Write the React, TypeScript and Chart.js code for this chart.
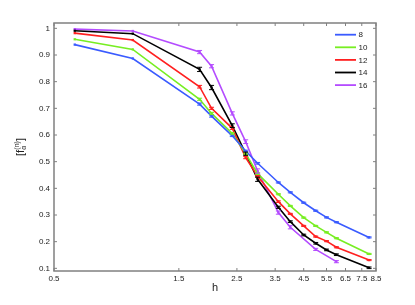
import React, { useEffect, useRef } from 'react';
import { Chart, registerables } from 'chart.js';

Chart.register(...registerables);

const hValues = [0.6, 1.0, 1.8, 2.0, 2.4, 2.7, 3.0, 3.6, 4.0, 4.5, 5.0, 5.5, 6.0, 8.0];
const seriesLabels = ['8', '10', '12', '14', '16'];
const seriesColors = ['#3a5bff', '#77ee22', '#ff2020', '#000000', '#b44cff'];

const n8 = [0.939, 0.887, 0.716, 0.671, 0.597, 0.54, 0.494, 0.422, 0.385, 0.346, 0.316, 0.291, 0.273, 0.216];
const n10 = [0.959, 0.921, 0.734, 0.681, 0.606, 0.53, 0.455, 0.378, 0.334, 0.29, 0.259, 0.235, 0.213, 0.154];
const n12 = [0.982, 0.956, 0.781, 0.7, 0.625, 0.515, 0.445, 0.35, 0.304, 0.259, 0.219, 0.202, 0.179, 0.131];
const n14 = [0.991, 0.98, 0.846, 0.778, 0.635, 0.53, 0.434, 0.329, 0.275, 0.225, 0.194, 0.169, 0.151, 0.102];
const n16 = [0.997, 0.99, 0.911, 0.858, 0.681, 0.575, 0.465, 0.309, 0.254, null, 0.171, null, 0.125, null];

const err8 = [0, 0, 0.004, 0.004, 0.003, 0.003, 0.003, 0.002, 0.002, 0.002, 0.002, 0.002, 0.002, 0.002];
const err10 = [0, 0, 0.004, 0.004, 0.003, 0.003, 0.003, 0.002, 0.002, 0.002, 0.002, 0.002, 0.002, 0.002];
const err12 = [0, 0, 0.005, 0.004, 0.004, 0.004, 0.003, 0.003, 0.002, 0.002, 0.002, 0.002, 0.002, 0.002];
const err14 = [0, 0, 0.008, 0.008, 0.007, 0.006, 0.008, 0.004, 0.003, 0.003, 0.003, 0.003, 0.003, 0.003];
const err16 = [0, 0, 0.006, 0.006, 0.006, 0.007, 0.008, 0.006, 0.006, 0, 0.004, 0, 0.004, 0];

const seriesValues = [n8, n10, n12, n14, n16];
const seriesErrors = [err8, err10, err12, err14, err16];

const xTicks = [0.5, 1.5, 2.5, 3.5, 4.5, 5.5, 6.5, 7.5, 8.5];
const yTicks = [0.1, 0.2, 0.3, 0.4, 0.5, 0.6, 0.7, 0.8, 0.9, 1];

const FONT = "'Liberation Sans', Arial, Helvetica, sans-serif";

const errorBarPlugin = {
  id: 'errorBars',
  afterDatasetsDraw(chart: any) {
    const ctx = chart.ctx;
    const ys = chart.scales.y;
    const area = chart.chartArea;
    ctx.save();
    ctx.beginPath();
    ctx.rect(area.left, area.top, area.right - area.left, area.bottom - area.top);
    ctx.clip();
    chart.data.datasets.forEach((ds: any, di: number) => {
      const meta = chart.getDatasetMeta(di);
      const errs = seriesErrors[di];
      meta.data.forEach((pt: any, i: number) => {
        const v = ds.data[i]?.y;
        const e = errs[i];
        if (v == null || !e) return;
        const y1 = ys.getPixelForValue(v - e);
        const y2 = ys.getPixelForValue(v + e);
        ctx.strokeStyle = ds.borderColor;
        ctx.lineWidth = 1;
        ctx.beginPath();
        ctx.moveTo(pt.x, y1);
        ctx.lineTo(pt.x, y2);
        ctx.moveTo(pt.x - 2.5, y1);
        ctx.lineTo(pt.x + 2.5, y1);
        ctx.moveTo(pt.x - 2.5, y2);
        ctx.lineTo(pt.x + 2.5, y2);
        ctx.stroke();
      });
    });
    ctx.restore();
  },
};

const framePlugin = {
  id: 'matlabFrame',
  afterDraw(chart: any) {
    const ctx = chart.ctx;
    const { left, right, top, bottom } = chart.chartArea;
    const xs = chart.scales.x;
    const ys = chart.scales.y;
    ctx.save();
    ctx.strokeStyle = '#808080';
    ctx.lineWidth = 1.5;
    ctx.strokeRect(left, top, right - left, bottom - top);
    ctx.lineWidth = 1;
    ctx.beginPath();
    const tl = 3;
    xTicks.forEach((t) => {
      const x = xs.getPixelForValue(t);
      ctx.moveTo(x, bottom);
      ctx.lineTo(x, bottom - tl);
      ctx.moveTo(x, top);
      ctx.lineTo(x, top + tl);
    });
    yTicks.forEach((t) => {
      const y = ys.getPixelForValue(t);
      ctx.moveTo(left, y);
      ctx.lineTo(left + tl, y);
      ctx.moveTo(right, y);
      ctx.lineTo(right - tl, y);
    });
    ctx.stroke();

    // legend
    ctx.font = `8px ${FONT}`;
    ctx.textBaseline = 'middle';
    ctx.textAlign = 'left';
    chart.data.datasets.forEach((ds: any, i: number) => {
      const y = 34.7 + i * 12.6;
      ctx.strokeStyle = ds.borderColor;
      ctx.lineWidth = 1.8;
      ctx.beginPath();
      ctx.moveTo(335, y);
      ctx.lineTo(356, y);
      ctx.stroke();
      ctx.fillStyle = '#222';
      ctx.fillText(ds.label, 358.5, y + 0.5);
    });

    // x title
    ctx.fillStyle = '#222';
    ctx.font = `11px ${FONT}`;
    ctx.textAlign = 'center';
    ctx.fillText('h', (left + right) / 2, 288);

    // y title: [f_α^(n)]
    ctx.translate(21, (top + bottom) / 2);
    ctx.rotate(-Math.PI / 2);
    const big = `11px ${FONT}`;
    const small = `7px ${FONT}`;
    ctx.font = big;
    const w1 = ctx.measureText('[f').width;
    const w3 = ctx.measureText(']').width;
    ctx.font = small;
    const wSup = ctx.measureText('(n)').width;
    const wSub = ctx.measureText('α').width;
    const wMid = Math.max(wSup, wSub) + 0.5;
    const total = w1 + wMid + w3;
    const x0 = -total / 2;
    ctx.textAlign = 'left';
    ctx.textBaseline = 'middle';
    ctx.font = big;
    ctx.fillText('[f', x0, 0);
    ctx.font = small;
    ctx.fillText('(n)', x0 + w1 + 0.3, -3.8);
    ctx.fillText('α', x0 + w1 + 0.3, 3.2);
    ctx.font = big;
    ctx.fillText(']', x0 + w1 + wMid, 0);
    ctx.restore();
  },
};

export default function App() {
  const canvasRef = useRef<HTMLCanvasElement | null>(null);

  useEffect(() => {
    document.body.style.margin = '0';
    const canvas = canvasRef.current;
    if (!canvas) return;
    const datasets = seriesValues.map((vals, i) => ({
      label: seriesLabels[i],
      data: hValues.map((h, j) => ({ x: h, y: vals[j] })),
      borderColor: seriesColors[i],
      backgroundColor: seriesColors[i],
      borderWidth: 1.6,
      pointStyle: 'rect' as const,
      pointRadius: 1.6,
      pointBorderWidth: 0,
      spanGaps: true,
      tension: 0,
    }));
    const chart = new Chart(canvas, {
      type: 'line',
      data: { datasets },
      options: {
        responsive: false,
        animation: false,
        events: [],
        layout: { padding: { top: 23, right: 39, left: 0, bottom: 0 } },
        plugins: { legend: { display: false }, tooltip: { enabled: false } },
        scales: {
          x: {
            type: 'logarithmic',
            min: 0.5,
            max: 8.5,
            afterBuildTicks: (s: any) => {
              s.ticks = xTicks.map((v) => ({ value: v }));
            },
            afterFit: (s: any) => {
              s.height = 34;
            },
            ticks: {
              autoSkip: false,
              maxRotation: 0,
              minRotation: 0,
              padding: 2.5,
              color: '#222',
              font: { family: FONT, size: 8 },
              callback: (v: any) => String(v),
            },
            grid: { display: true, drawOnChartArea: false, drawTicks: false },
            border: { display: false },
          },
          y: {
            type: 'linear',
            min: 0.09,
            max: 1.02,
            afterBuildTicks: (s: any) => {
              s.ticks = yTicks.map((v) => ({ value: v }));
            },
            afterFit: (s: any) => {
              s.width = 54;
            },
            ticks: {
              autoSkip: false,
              padding: 4,
              color: '#222',
              font: { family: FONT, size: 8 },
              callback: (v: any) => String(v),
            },
            grid: { display: true, drawOnChartArea: false, drawTicks: false },
            border: { display: false },
          },
        },
      },
      plugins: [errorBarPlugin, framePlugin],
    });
    return () => chart.destroy();
  }, []);

  return (
    <div style={{ width: 415, height: 305, background: '#fff' }}>
      <canvas ref={canvasRef} width={415} height={305} style={{ display: 'block' }} />
    </div>
  );
}
